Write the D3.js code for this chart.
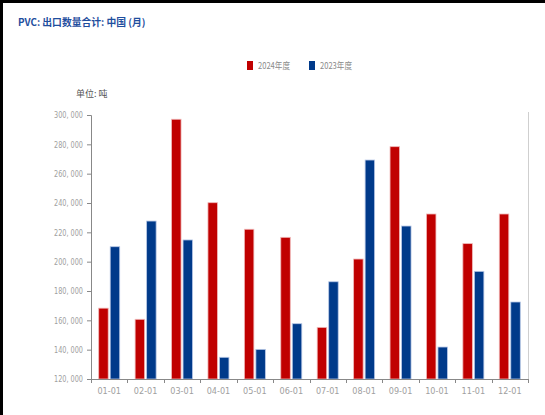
<!DOCTYPE html>
<html>
<head>
<meta charset="utf-8">
<script src="https://cdn.jsdelivr.net/npm/d3@7/dist/d3.min.js"></script>
<style>
  html, body { margin: 0; padding: 0; background: #fff; }
  svg { display: block; }
</style>
</head>
<body>
<svg id="chart" width="545" height="415"></svg>
<script>
// Monthly PVC export volume, China (tonnes)
const months = ["01-01","02-01","03-01","04-01","05-01","06-01","07-01","08-01","09-01","10-01","11-01","12-01"];
const series = ["2024年度", "2023年度"];
const values2024 = [168300, 160700, 297100, 240200, 222100, 216600, 155200, 201800, 278400, 232500, 212300, 232500];
const values2023 = [210200, 227700, 214800, 134800, 140200, 157700, 186300, 269300, 224300, 141800, 193400, 172500];
const yTicks = [120000, 140000, 160000, 180000, 200000, 220000, 240000, 260000, 280000, 300000];
const colors = ["#C00000", "#003A8A"];

const svg = d3.select("#chart");
const W = 545, H = 415;
const cjk = "'Noto Sans CJK SC', sans-serif";
const narrow = "'DejaVu Sans Condensed', 'Liberation Sans Narrow', sans-serif";

// frame edges
svg.append("rect").attr("x", 0).attr("y", 0).attr("width", W).attr("height", 3).attr("fill", "#000");
svg.append("rect").attr("x", 0).attr("y", 0).attr("width", 3).attr("height", H).attr("fill", "#000");

// title
svg.append("text")
  .attr("x", 18).attr("y", 25.5)
  .attr("font-family", cjk)
  .attr("font-size", 9.8).attr("font-weight", "bold")
  .attr("fill", "#1F4E9E")
  .text("PVC: 出口数量合计: 中国 (月)");

// legend
const legend = svg.append("g");
const legendX = [247, 309];
series.forEach((s, i) => {
  legend.append("rect").attr("x", legendX[i]).attr("y", 61).attr("width", 6).attr("height", 9).attr("fill", colors[i]);
  legend.append("text").attr("x", legendX[i] + 11).attr("y", 69)
    .attr("font-family", cjk).attr("font-size", 9)
    .attr("textLength", 32).attr("lengthAdjust", "spacingAndGlyphs")
    .attr("fill", "#8a8a8a").text(s);
});

// unit label
svg.append("text").attr("x", 76).attr("y", 97)
  .attr("font-family", cjk).attr("font-size", 9)
  .attr("fill", "#555").text("单位: 吨");

const margin = { left: 91, right: 528, top: 115, bottom: 379 };

const x = d3.scaleBand().domain(months).range([margin.left, margin.right]);
const y = d3.scaleLinear().domain([120000, 300000]).range([margin.bottom, margin.top]);

// right boundary line
svg.append("line")
  .attr("x1", margin.right + 0.5).attr("x2", margin.right + 0.5)
  .attr("y1", margin.top - 3).attr("y2", margin.bottom)
  .attr("stroke", "#cfcfcf");

// bars
const barW = 9.5, gap = 1;
const groups = svg.append("g");
months.forEach((m, i) => {
  const c = x(m) + x.bandwidth() / 2;
  [values2024[i], values2023[i]].forEach((v, k) => {
    const bx = k === 0 ? c - gap - barW : c + gap;
    groups.append("rect")
      .attr("x", bx).attr("y", y(v))
      .attr("width", barW).attr("height", y(120000) - y(v))
      .attr("fill", colors[k])
      .attr("stroke", k === 0 ? "#f0b8b8" : "#b8c8e6")
      .attr("stroke-width", 0.8);
  });
});

// y axis
const fmt = d3.format(",");
const yAxis = svg.append("g")
  .attr("transform", `translate(${margin.left},0)`)
  .call(d3.axisLeft(y).tickValues(yTicks).tickSize(4).tickFormat(d => fmt(d).replace(",", ", ")));
yAxis.select(".domain").attr("stroke", "#888");
yAxis.selectAll(".tick line").attr("stroke", "#888");
yAxis.selectAll(".tick text")
  .attr("font-family", narrow)
  .attr("font-size", 8.5).attr("fill", "#a0a0a0").attr("dx", -1)
  .attr("textLength", 29).attr("lengthAdjust", "spacingAndGlyphs");

// x axis with ticks on band boundaries
const xAxis = svg.append("g")
  .attr("transform", `translate(0,${margin.bottom})`)
  .call(d3.axisBottom(x).tickSize(0).tickPadding(9));
xAxis.select(".domain").attr("stroke", "#888");
xAxis.selectAll(".tick text")
  .attr("font-family", narrow)
  .attr("font-size", 9).attr("fill", "#a0a0a0");
const bounds = months.map(m => x(m)).concat([x(months[months.length - 1]) + x.step()]);
xAxis.selectAll(".bound").data(bounds).enter().append("line")
  .attr("x1", d => Math.round(d) + 0.5).attr("x2", d => Math.round(d) + 0.5)
  .attr("y1", 0).attr("y2", 4).attr("stroke", "#888");
</script>
</body>
</html>
